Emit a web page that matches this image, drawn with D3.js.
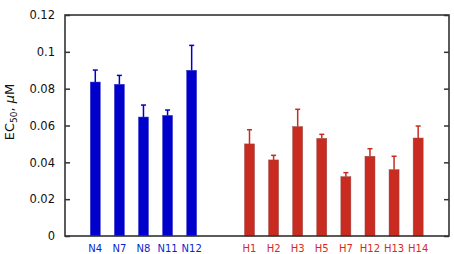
<!DOCTYPE html>
<html>
<head>
<meta charset="utf-8">
<script src="https://cdn.jsdelivr.net/npm/d3@7"></script>
<style>
  body { margin: 0; background: #fff; }
  svg { display: block; font-family: "DejaVu Sans", "Liberation Sans", Arial, sans-serif; }
</style>
</head>
<body>
<svg width="454" height="254"></svg>
<script>
const nLabels = ["N4", "N7", "N8", "N11", "N12"];
const nValues = [0.0836, 0.0824, 0.0646, 0.0655, 0.0900];
const nErrors = [0.0065, 0.0048, 0.0065, 0.0029, 0.0135];

const hLabels = ["H1", "H2", "H3", "H5", "H7", "H12", "H13", "H14"];
const hValues = [0.0500, 0.0413, 0.0594, 0.0530, 0.0322, 0.0433, 0.0360, 0.0532];
const hErrors = [0.0077, 0.0025, 0.0094, 0.0022, 0.0022, 0.0041, 0.0073, 0.0065];

const yTicks = [0, 0.02, 0.04, 0.06, 0.08, 0.1, 0.12];

const svg = d3.select("svg");
const plotLeft = 65, plotRight = 449, plotTop = 15, plotBottom = 236;

// group gap: H series starts 6.4 slots after N4
const bars = nLabels.map((l, i) => ({ label: l, value: nValues[i], err: nErrors[i], slot: i, color: "#0000cc", text: "#0a1fd0" }))
  .concat(hLabels.map((l, i) => ({ label: l, value: hValues[i], err: hErrors[i], slot: i + 6.4, color: "#c92b20", text: "#d9291f" })));

const x = d3.scaleLinear().domain([-1.257, 14.68]).range([plotLeft, plotRight]);
const y = d3.scaleLinear().domain([0, 0.12]).range([plotBottom, plotTop]);
const barW = 10;

// bars
svg.selectAll(".bar")
  .data(bars)
  .enter()
  .append("rect")
  .attr("class", "bar")
  .attr("x", d => x(d.slot) - barW / 2)
  .attr("width", barW)
  .attr("y", d => y(d.value))
  .attr("height", d => y(0) - y(d.value))
  .attr("fill", d => d.color)
  .attr("stroke", d => d.slot > 5 ? "#9a4a44" : "#3a3ac8")
  .attr("stroke-width", 0.5);

// error bars (upper only)
const err = svg.selectAll(".err")
  .data(bars)
  .enter()
  .append("g")
  .attr("class", "err")
  .attr("stroke", d => d.color)
  .attr("stroke-width", 1.5);

err.append("line")
  .attr("x1", d => x(d.slot))
  .attr("x2", d => x(d.slot))
  .attr("y1", d => y(d.value))
  .attr("y2", d => y(d.value + d.err));

err.append("line")
  .attr("x1", d => x(d.slot) - 2.5)
  .attr("x2", d => x(d.slot) + 2.5)
  .attr("y1", d => y(d.value + d.err))
  .attr("y2", d => y(d.value + d.err));

// frame
svg.append("rect")
  .attr("x", plotLeft)
  .attr("y", plotTop)
  .attr("width", plotRight - plotLeft)
  .attr("height", plotBottom - plotTop)
  .attr("fill", "none")
  .attr("stroke", "#333")
  .attr("stroke-width", 1.6);

// left axis, ticks pointing inward
const yAxisL = svg.append("g")
  .attr("transform", `translate(${plotLeft},0)`)
  .call(d3.axisLeft(y).tickValues(yTicks).tickSize(-5).tickPadding(10).tickFormat(d => d3.format("")(+d.toFixed(2))));
yAxisL.select(".domain").remove();
yAxisL.selectAll("line").attr("stroke", "#333").attr("stroke-width", 1.5);
yAxisL.selectAll("text")
  .attr("font-size", "11.5px")
  .attr("fill", "#111")
  .attr("font-family", "DejaVu Sans, sans-serif");

// right axis, ticks only
const yAxisR = svg.append("g")
  .attr("transform", `translate(${plotRight},0)`)
  .call(d3.axisRight(y).tickValues(yTicks).tickSize(-5).tickFormat(""));
yAxisR.select(".domain").remove();
yAxisR.selectAll("line").attr("stroke", "#333").attr("stroke-width", 1.5);

// category labels
svg.selectAll(".xlab")
  .data(bars)
  .enter()
  .append("text")
  .attr("class", "xlab")
  .attr("x", d => x(d.slot))
  .attr("y", 251.5)
  .attr("text-anchor", "middle")
  .attr("font-size", "10px")
  .attr("fill", d => d.text)
  .text(d => d.label);

// y label
const ylab = svg.append("text")
  .attr("transform", "translate(14,112) rotate(-90)")
  .attr("text-anchor", "middle")
  .attr("font-size", "13px")
  .attr("fill", "#111");
ylab.append("tspan").text("EC");
ylab.append("tspan").attr("font-size", "9px").attr("dy", 3).text("50");
ylab.append("tspan").attr("dy", -3).text(", ");
ylab.append("tspan").attr("font-style", "italic").text("\u03BC");
ylab.append("tspan").text("M");
</script>
</body>
</html>
